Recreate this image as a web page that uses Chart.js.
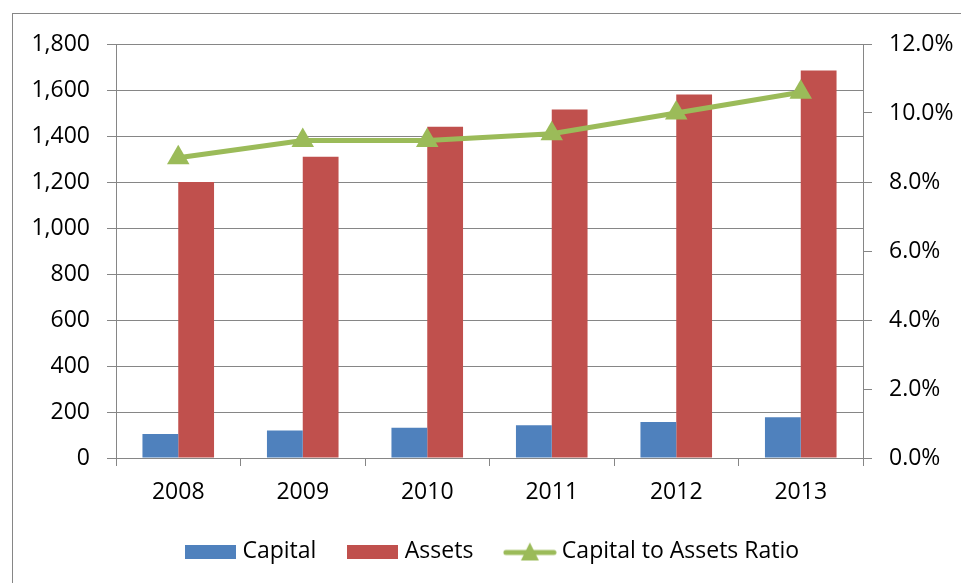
<!DOCTYPE html>
<html>
<head>
<meta charset="utf-8">
<style>
  body { margin: 0; background: #fff; }
  #wrap { position: relative; width: 961px; height: 583px; }
</style>
<script src="https://cdn.jsdelivr.net/npm/chart.js@4.4.0/dist/chart.umd.min.js"></script>
</head>
<body>
<div id="wrap"><canvas id="chart" width="961" height="583"></canvas></div>
<script>
// capital vs assets, with the ratio on the right axis
const years = ['2008', '2009', '2010', '2011', '2012', '2013'];
const capital = [104, 120, 132, 142, 157, 177];
const assets = [1200, 1310, 1440, 1515, 1580, 1685];
const ratio = [8.7, 9.2, 9.2, 9.4, 10.0, 10.6];

const BLUE = '#4F81BD';
const RED = '#C0504D';
const GREEN = '#9BBB59';
const GRID = '#868686';
const FONT = '"Open Sans", Lato, sans-serif';

// little pictures for the legend
function boxIcon(color) {
  const c = document.createElement('canvas');
  c.width = 51; c.height = 14;
  const g = c.getContext('2d');
  g.fillStyle = color;
  g.fillRect(0, 0, 51, 14);
  return c;
}
function lineIcon(color) {
  const c = document.createElement('canvas');
  c.width = 54; c.height = 22;
  const g = c.getContext('2d');
  g.strokeStyle = color;
  g.lineWidth = 5;
  g.lineCap = 'round';
  g.beginPath(); g.moveTo(3, 12); g.lineTo(51, 12); g.stroke();
  g.fillStyle = color;
  g.beginPath(); g.moveTo(27, 2); g.lineTo(36, 20); g.lineTo(18, 20); g.closePath(); g.fill();
  return c;
}
const icons = [boxIcon(BLUE), boxIcon(RED), lineIcon(GREEN)];

const outerBorder = {
  id: 'outerBorder',
  beforeDraw(chart) {
    const ctx = chart.ctx;
    ctx.save();
    ctx.fillStyle = '#fff';
    ctx.fillRect(0, 0, chart.width, chart.height);
    ctx.strokeStyle = GRID;
    ctx.lineWidth = 1;
    ctx.strokeRect(12.5, 13.5, chart.width + 20, chart.height + 20);
    ctx.restore();
  }
};

new Chart(document.getElementById('chart'), {
  type: 'bar',
  data: {
    labels: years,
    datasets: [
      { label: 'Capital', data: capital, backgroundColor: BLUE, yAxisID: 'y', order: 1 },
      { label: 'Assets', data: assets, backgroundColor: RED, yAxisID: 'y', order: 1 },
      {
        type: 'line', label: 'Capital to Assets Ratio', data: ratio, yAxisID: 'y1', order: 0,
        borderColor: GREEN, backgroundColor: GREEN, borderWidth: 5,
        pointStyle: 'triangle', pointRadius: 13, pointBorderWidth: 0, tension: 0
      }
    ]
  },
  options: {
    responsive: false,
    animation: false,
    layout: { padding: { left: 28, right: 0, top: 44, bottom: 10 } },
    datasets: { bar: { categoryPercentage: 0.575, barPercentage: 1.0 } },
    plugins: {
      tooltip: { enabled: false },
      legend: {
        position: 'bottom',
        labels: {
          usePointStyle: true,
          pointStyleWidth: 41,
          padding: 36,
          color: '#000',
          font: { family: FONT, size: 23 },
          generateLabels(chart) {
            return chart.data.datasets.map((ds, i) => ({
              text: ds.label, pointStyle: icons[i], datasetIndex: i,
              fillStyle: ds.backgroundColor, strokeStyle: ds.backgroundColor,
              lineWidth: 0, hidden: false
            }));
          }
        }
      }
    },
    scales: {
      x: {
        grid: { offset: true, drawOnChartArea: false, color: GRID, tickLength: 8 },
        border: { color: GRID },
        ticks: { color: '#000', padding: 13, font: { family: FONT, size: 23 } },
        afterFit(s) { s.height = 46; }
      },
      y: {
        position: 'left', min: 0, max: 1800,
        grid: { color: GRID, tickLength: 9 },
        border: { color: GRID },
        ticks: {
          stepSize: 200, color: '#000', padding: 17,
          font: { family: FONT, size: 23 },
          callback: v => v.toLocaleString('en-US')
        },
        afterFit(s) { s.width = 88; }
      },
      y1: {
        position: 'right', min: 0, max: 12,
        grid: { drawOnChartArea: false, color: GRID, tickLength: 9 },
        border: { color: GRID },
        ticks: {
          stepSize: 2, color: '#000', padding: 17,
          font: { family: FONT, size: 23 },
          callback: v => v.toFixed(1) + '%'
        },
        afterFit(s) { s.width = 98; }
      }
    }
  },
  plugins: [outerBorder]
});
</script>
</body>
</html>
